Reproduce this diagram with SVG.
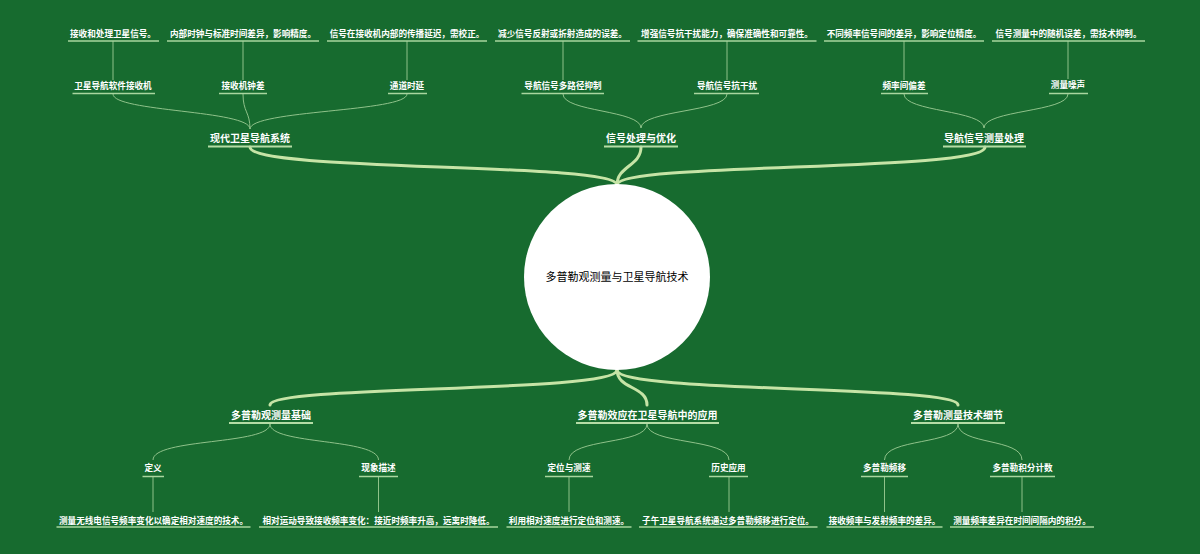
<svg xmlns="http://www.w3.org/2000/svg" width="1200" height="554" viewBox="0 0 1200 554">
<style>
.t{font-family:"Noto Sans CJK SC","Noto Sans",sans-serif;fill:#ffffff;text-anchor:middle;font-weight:bold}
.s{font-size:8.6px}
.m{font-size:10px}
.c{font-family:"Noto Sans CJK SC","Noto Sans",sans-serif;font-size:11px;fill:#000000;text-anchor:middle}
.u{stroke:#a9d69f;stroke-width:1.5}
.um{stroke:#b5dda6;stroke-width:2}
.thick{fill:none;stroke:#c6e4a6;stroke-width:3;stroke-linecap:round}
.thin{fill:none;stroke:#8fc28a;stroke-width:1}
</style>
<rect width="1200" height="554" fill="#176b2f"/>
<g id="connectors">
<path class="thick" d="M617,185 C617,162 250,172 250,147"/>
<path class="thick" d="M617,185 C617,166 641,166 641,147"/>
<path class="thick" d="M617,185 C617,162 985,172 985,147"/>
<path class="thick" d="M617,370 C617,393 270,385 270,405"/>
<path class="thick" d="M617,370 C617,389 647,386 647,405"/>
<path class="thick" d="M617,370 C617,393 958,385 958,405"/>
<path class="thin" d="M250,129 C250,110 113,112 113,94"/>
<path class="thin" d="M250,129 C250,112 243,112 243,94"/>
<path class="thin" d="M250,129 C250,110 407,112 407,94"/>
<path class="thin" d="M641,128 C641,110 563,112 563,94"/>
<path class="thin" d="M641,128 C641,110 727,112 727,94"/>
<path class="thin" d="M984,128 C984,110 904,112 904,94"/>
<path class="thin" d="M984,128 C984,110 1068,112 1068,94"/>
<path class="thin" d="M113,80 V41"/>
<path class="thin" d="M243,80 V41"/>
<path class="thin" d="M407,80 V41"/>
<path class="thin" d="M563,80 V41"/>
<path class="thin" d="M727,80 V41"/>
<path class="thin" d="M904,80 V41"/>
<path class="thin" d="M1068,79 V41"/>
<path class="thin" d="M270,424 C270,445 153,438 153,460"/>
<path class="thin" d="M270,424 C270,445 378.5,438 378.5,460"/>
<path class="thin" d="M647,424 C647,445 569,438 569,460"/>
<path class="thin" d="M647,424 C647,445 729,438 729,460"/>
<path class="thin" d="M958,424 C958,445 884.5,438 884.5,460"/>
<path class="thin" d="M958,424 C958,445 1022,438 1022,460"/>
<path class="thin" d="M153,477 V512"/>
<path class="thin" d="M378.5,477 V512"/>
<path class="thin" d="M569,477 V512"/>
<path class="thin" d="M729,477 V512"/>
<path class="thin" d="M884.5,477 V512"/>
<path class="thin" d="M1022,477 V512"/>
</g>
<g id="center">
<circle cx="617" cy="277" r="93" fill="#ffffff"/>
<text class="c" x="617" y="281">多普勒观测量与卫星导航技术</text>
</g>
<g id="n-xiandai">
<text class="t m" x="250" y="141.5">现代卫星导航系统</text>
<line class="um" x1="208" y1="146.5" x2="292" y2="146.5"/>
</g>
<g id="n-xinhao">
<text class="t m" x="641" y="141.5">信号处理与优化</text>
<line class="um" x1="604" y1="146.5" x2="678" y2="146.5"/>
</g>
<g id="n-celiang">
<text class="t m" x="984" y="141.5">导航信号测量处理</text>
<line class="um" x1="943" y1="146.5" x2="1026" y2="146.5"/>
</g>
<g id="n-jichu">
<text class="t m" x="271" y="418.5">多普勒观测量基础</text>
<line class="um" x1="229" y1="423" x2="313" y2="423"/>
</g>
<g id="n-yingyong">
<text class="t m" x="647.5" y="418.5">多普勒效应在卫星导航中的应用</text>
<line class="um" x1="576" y1="423" x2="719" y2="423"/>
</g>
<g id="n-xijie">
<text class="t m" x="958" y="418.5">多普勒测量技术细节</text>
<line class="um" x1="911" y1="423" x2="1005" y2="423"/>
</g>
<g id="c-jieshouji">
<text class="t s" x="113" y="89">卫星导航软件接收机</text>
<line class="u" x1="72.5" y1="93.5" x2="155" y2="93.5"/>
</g>
<g id="c-zhongcha">
<text class="t s" x="243" y="89">接收机钟差</text>
<line class="u" x1="219" y1="93.5" x2="267" y2="93.5"/>
</g>
<g id="c-shiyan">
<text class="t s" x="407" y="89">通道时延</text>
<line class="u" x1="388" y1="93.5" x2="427" y2="93.5"/>
</g>
<g id="c-duolujing">
<text class="t s" x="563" y="89">导航信号多路径抑制</text>
<line class="u" x1="521.5" y1="93.5" x2="604" y2="93.5"/>
</g>
<g id="c-kangganrao">
<text class="t s" x="727" y="89">导航信号抗干扰</text>
<line class="u" x1="694" y1="93.5" x2="759" y2="93.5"/>
</g>
<g id="c-pianchai">
<text class="t s" x="904" y="89">频率间偏差</text>
<line class="u" x1="881" y1="93.5" x2="928" y2="93.5"/>
</g>
<g id="c-zaosheng">
<text class="t s" x="1068" y="88">测量噪声</text>
<line class="u" x1="1049" y1="93.5" x2="1088" y2="93.5"/>
</g>
<g id="g-1">
<text class="t s" x="113" y="37">接收和处理卫星信号。</text>
<line class="u" x1="68" y1="41" x2="159" y2="41"/>
</g>
<g id="g-2">
<text class="t s" x="243" y="37">内部时钟与标准时间差异，影响精度。</text>
<line class="u" x1="167" y1="41" x2="319" y2="41"/>
</g>
<g id="g-3">
<text class="t s" x="407" y="37">信号在接收机内部的传播延迟，需校正。</text>
<line class="u" x1="327" y1="41" x2="487" y2="41"/>
</g>
<g id="g-4">
<text class="t s" x="562.5" y="37">减少信号反射或折射造成的误差。</text>
<line class="u" x1="495" y1="41" x2="630" y2="41"/>
</g>
<g id="g-5">
<text class="t s" x="727" y="37">增强信号抗干扰能力，确保准确性和可靠性。</text>
<line class="u" x1="637.5" y1="41" x2="816.5" y2="41"/>
</g>
<g id="g-6">
<text class="t s" x="904" y="37">不同频率信号间的差异，影响定位精度。</text>
<line class="u" x1="824" y1="41" x2="984" y2="41"/>
</g>
<g id="g-7">
<text class="t s" x="1068.5" y="37">信号测量中的随机误差，需技术抑制。</text>
<line class="u" x1="992" y1="41" x2="1145" y2="41"/>
</g>
<g id="c-dingyi">
<text class="t s" x="153" y="471">定义</text>
<line class="u" x1="142.5" y1="476.5" x2="164" y2="476.5"/>
</g>
<g id="c-xianxiang">
<text class="t s" x="378.5" y="471">现象描述</text>
<line class="u" x1="359" y1="476.5" x2="398" y2="476.5"/>
</g>
<g id="c-dingwei">
<text class="t s" x="569" y="471">定位与测速</text>
<line class="u" x1="545" y1="476.5" x2="593" y2="476.5"/>
</g>
<g id="c-lishi">
<text class="t s" x="728.5" y="471">历史应用</text>
<line class="u" x1="709" y1="476.5" x2="748" y2="476.5"/>
</g>
<g id="c-pinyi">
<text class="t s" x="884.5" y="471">多普勒频移</text>
<line class="u" x1="861" y1="476.5" x2="908" y2="476.5"/>
</g>
<g id="c-jifen">
<text class="t s" x="1022.5" y="471">多普勒积分计数</text>
<line class="u" x1="990" y1="476.5" x2="1055" y2="476.5"/>
</g>
<g id="g-8">
<text class="t s" x="153.5" y="523.5">测量无线电信号频率变化以确定相对速度的技术。</text>
<line class="u" x1="56.5" y1="527" x2="250.5" y2="527"/>
</g>
<g id="g-9">
<text class="t s" x="378.5" y="523.5">相对运动导致接收频率变化：接近时频率升高，远离时降低。</text>
<line class="u" x1="259" y1="527" x2="498" y2="527"/>
</g>
<g id="g-10">
<text class="t s" x="569" y="523.5">利用相对速度进行定位和测速。</text>
<line class="u" x1="506.5" y1="527" x2="631.5" y2="527"/>
</g>
<g id="g-11">
<text class="t s" x="728" y="523.5">子午卫星导航系统通过多普勒频移进行定位。</text>
<line class="u" x1="639" y1="527" x2="817.5" y2="527"/>
</g>
<g id="g-12">
<text class="t s" x="884.5" y="523.5">接收频率与发射频率的差异。</text>
<line class="u" x1="826.5" y1="527" x2="942.5" y2="527"/>
</g>
<g id="g-13">
<text class="t s" x="1022" y="523.5">测量频率差异在时间间隔内的积分。</text>
<line class="u" x1="950" y1="527" x2="1094" y2="527"/>
</g>
</svg>
